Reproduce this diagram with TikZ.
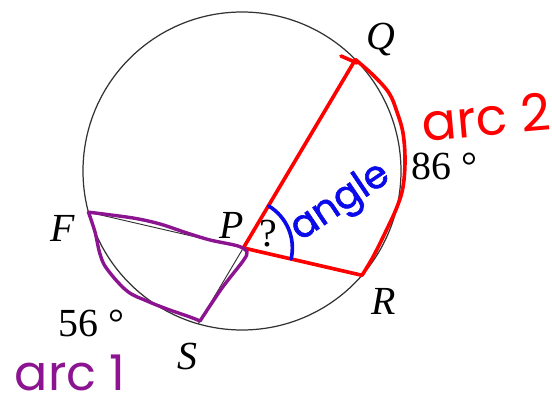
\documentclass[tikz,border=0pt]{standalone}
\usepackage{fontspec}
\setmainfont{Liberation Serif}
\newfontfamily\handfont{Poppins}
\newfontfamily\handbold[FakeBold=1.6]{Poppins}
\usetikzlibrary{calc}
\definecolor{mkred}{RGB}{255,0,0}
\definecolor{mkblue}{RGB}{10,10,235}
\definecolor{mkpurple}{RGB}{140,20,145}
\begin{document}
\begin{tikzpicture}[x=0.03cm,y=0.03cm,
  geo/.style={line width=1.05pt, draw=black!80},
  chord/.style={line width=0.8pt, draw=black!80},
  lbl/.style={font=\fontsize{34}{40}\selectfont\itshape, inner sep=0, anchor=base},
  deg/.style={font=\fontsize{34}{40}\selectfont, inner sep=0, anchor=base},
  redmark/.style={line width=3.1pt, draw=mkred, line cap=round, line join=round},
  bluemark/.style={line width=3.1pt, draw=mkblue, line cap=round, line join=round},
  purplemark/.style={line width=2.9pt, draw=mkpurple, line cap=round, line join=round},
  hand/.style={inner sep=0, font=\handfont\fontsize{#1}{#1}\selectfont}
]
\useasboundingbox[fill=white] (0,0) rectangle (552,-397);
% geometry
\coordinate (O) at (242,-171);
\coordinate (Q) at ($(O)+(44.5:159)$);
\coordinate (F) at ($(O)+(195:159)$);
\coordinate (S) at ($(O)+(254:159)$);
\coordinate (R) at ($(O)+(-41:159)$);
\coordinate (P) at (intersection of F--R and Q--S);
\draw[geo] (O) circle[radius=159];
\draw[chord] (F) -- (R);
\draw[chord] (Q) -- (S);
% labels
\node[lbl] (lQ) at (381,-50) {Q};
\node[lbl] (lF) at (63,-242) {F};
\node[lbl] (lP) at (232,-239) {P};
\node[lbl] (lR) at (384,-314) {R};
\node[lbl] (lS) at (187,-369) {S};
\node[deg] (d56) at (91.5,-337) {56 °};
\node[deg] (d86) at (444.5,-180) {86 °};
\node[deg, font=\fontsize{34}{40}\selectfont] (qm) at (268,-247) {?};
% red overlay (arc 2)
\draw[redmark] (341,-56) -- (357,-63);
\draw[redmark] (Q) -- (P) -- (R) -- plot[smooth, tension=0.6] coordinates {(R) (373,-257) (386,-231) (397,-207) (403,-187) (405,-160) (403,-133) (397,-112) (389,-93) (373,-75) (Q)};
% purple overlay (arc 1)
\draw[purplemark] plot[smooth, tension=0.5] coordinates {(F) (133,-218) (160,-224) (187,-233) (210,-240) (238,-246) (247,-252) (243,-261) (222,-288) (200,-321)}
  -- plot[smooth, tension=0.6] coordinates {(200,-321) (190,-317) (167,-309) (147,-301) (127,-291) (107,-269) (100,-254) (95,-232) (F)};
% blue angle mark
\draw[bluemark] ($(P)+(59:49)$) arc[start angle=59, end angle=-13, radius=49];
% handwritten texts
\node[inner sep=0, font=\handbold\fontsize{33}{33}\selectfont, text=mkblue, rotate=34] (ang) at (341,-203) {angle};
\node[hand=44, text=mkred, rotate=5] (arc2) at (486,-117) {arc 2};
\node[hand=42, text=mkpurple] (arc1) at (70,-373) {arc 1};
\end{tikzpicture}
\end{document}
